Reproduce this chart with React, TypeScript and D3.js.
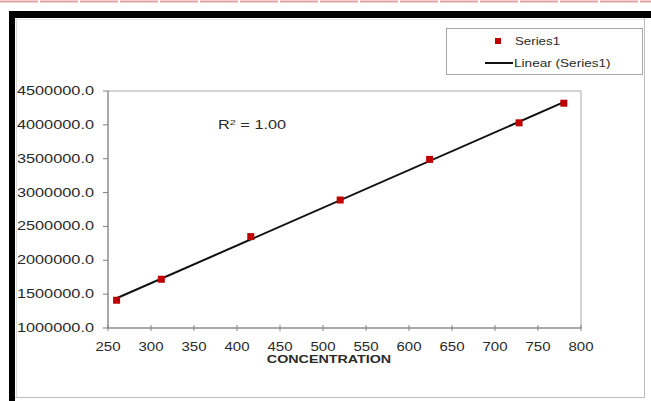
import React from "react";
import * as d3 from "d3";

// calibration points
const concentration = [260, 312, 416, 520, 624, 728, 780];
const response = [1410000, 1720000, 2350000, 2890000, 3490000, 4030000, 4320000];

const xTicks = [250, 300, 350, 400, 450, 500, 550, 600, 650, 700, 750, 800];
const yTicks = [1000000, 1500000, 2000000, 2500000, 3000000, 3500000, 4000000, 4500000];

const xTitle = "CONCENTRATION";
const seriesName = "Series1";
const trendName = "Linear (Series1)";
const r2Label = "1.00";

const W = 651;
const H = 401;
const plot = { left: 108, right: 581, top: 91, bottom: 328 };

const font = "Arial, 'Liberation Sans', sans-serif";
const textColor = "#2a2a2a";

const App = () => {
  const x = d3.scaleLinear().domain([250, 800]).range([plot.left, plot.right]);
  const y = d3.scaleLinear().domain([1000000, 4500000]).range([plot.bottom, plot.top]);

  // least squares fit for the trend line
  const mx = d3.mean(concentration);
  const my = d3.mean(response);
  let sxy = 0,
    sxx = 0;
  concentration.forEach((c, i) => {
    sxy += (c - mx) * (response[i] - my);
    sxx += (c - mx) * (c - mx);
  });
  const slope = sxy / sxx;
  const intercept = my - slope * mx;
  const xExt = d3.extent(concentration);
  const fit = xExt.map((c) => [c, intercept + slope * c]);

  const line = d3
    .line()
    .x((d) => x(d[0]))
    .y((d) => y(d[1]));

  const fmt = d3.format(".1f");

  return (
    <svg
      width={W}
      height={H}
      style={{ position: "absolute", left: 0, top: 0, background: "#fff" }}
    >
      {/* dashed pink rule at the very top */}
      <line x1={0} x2={W} y1={1.5} y2={1.5} stroke="#e3a0a0" strokeWidth={2} strokeDasharray="38 2" />

      {/* outer frame */}
      <rect x={9} y={11} width={W - 9} height={7} fill="#000" />
      <rect x={9} y={11} width={6} height={H - 11} fill="#000" />
      <line x1={16.5} x2={16.5} y1={18} y2={398} stroke="#d8d8d8" />
      <line x1={15} x2={645} y1={19.5} y2={19.5} stroke="#e6e6e6" />
      <line x1={644.5} x2={644.5} y1={18} y2={398} stroke="#bdbdbd" />
      <line x1={15} x2={645} y1={397.5} y2={397.5} stroke="#bdbdbd" />

      {/* plot area border */}
      <rect
        x={plot.left}
        y={plot.top}
        width={plot.right - plot.left}
        height={plot.bottom - plot.top}
        fill="none"
        stroke="#a8a8a8"
        strokeWidth={1}
      />
      <line x1={plot.left} x2={plot.left} y1={plot.top} y2={plot.bottom} stroke="#808080" />
      <line x1={plot.left} x2={plot.right} y1={plot.bottom} y2={plot.bottom} stroke="#808080" />

      {/* y axis */}
      {yTicks.map((t) => (
        <g key={"y" + t}>
          <line x1={plot.left - 5} x2={plot.left} y1={y(t)} y2={y(t)} stroke="#808080" />
          <text
            transform={`translate(${plot.left - 14},${y(t) + 4}) scale(1.36,1)`}
            textAnchor="end"
            fontFamily={font}
            fontSize={12}
            fill={textColor}
          >
            {fmt(t)}
          </text>
        </g>
      ))}

      {/* x axis */}
      {xTicks.map((t) => (
        <g key={"x" + t}>
          <line x1={x(t)} x2={x(t)} y1={plot.bottom - 3} y2={plot.bottom + 3} stroke="#808080" />
          <text
            transform={`translate(${x(t)},${plot.bottom + 23}) scale(1.25,1)`}
            textAnchor="middle"
            fontFamily={font}
            fontSize={12}
            fill={textColor}
          >
            {t}
          </text>
        </g>
      ))}
      <text
        transform={`translate(329,${plot.bottom + 35}) scale(1.3,1)`}
        textAnchor="middle"
        fontFamily={font}
        fontSize={11}
        fontWeight="bold"
        fill={textColor}
      >
        {xTitle}
      </text>

      {/* trend line */}
      <path d={line(fit)} fill="none" stroke="#111" strokeWidth={2} />

      {/* points */}
      {concentration.map((c, i) => (
        <rect
          key={"p" + i}
          x={x(c) - 3.5}
          y={y(response[i]) - 3.5}
          width={7}
          height={7}
          fill="#c00000"
        />
      ))}

      {/* R squared */}
      <text
        transform="translate(218,129) scale(1.36,1)"
        fontFamily={font}
        fontSize={12}
        fill={textColor}
      >
        R<tspan dy={-4} fontSize={8}>2</tspan>
        <tspan dy={4}>{" = " + r2Label}</tspan>
      </text>

      {/* legend */}
      <rect x={446.5} y={28.5} width={196} height={46} fill="#fff" stroke="#a8a8a8" />
      <rect x={495} y={38} width={6} height={6} fill="#c00000" />
      <text
        transform="translate(515,44.5) scale(1.33,1)"
        fontFamily={font}
        fontSize={10}
        fill={textColor}
      >
        {seriesName}
      </text>
      <line x1={485} x2={513} y1={63} y2={63} stroke="#111" strokeWidth={2} />
      <text
        transform="translate(514,66.5) scale(1.36,1)"
        fontFamily={font}
        fontSize={10}
        fill={textColor}
      >
        {trendName}
      </text>
    </svg>
  );
};

export default App;
